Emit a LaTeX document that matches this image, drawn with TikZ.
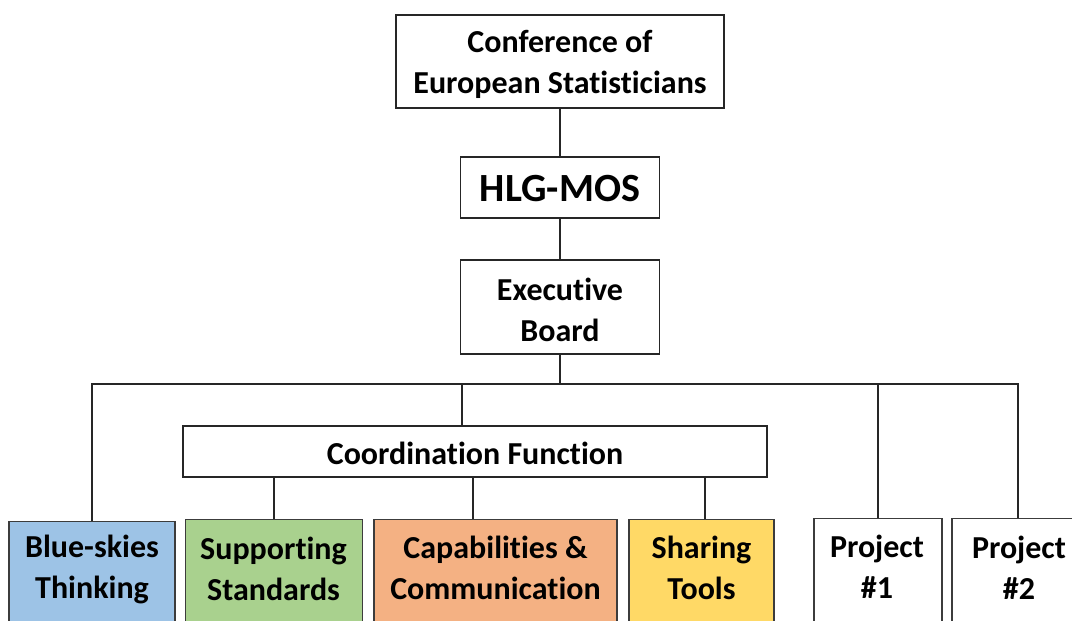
\documentclass[tikz,border=0pt]{standalone}
\usepackage{fontspec}
\setmainfont[Ligatures=NoCommon]{Carlito}
\definecolor{cblue}{HTML}{9DC3E6}
\definecolor{cgreen}{HTML}{A9D18E}
\definecolor{corange}{HTML}{F4B183}
\definecolor{cyellow}{HTML}{FFD966}
\definecolor{lcol}{HTML}{262626}
\tikzset{
  box/.style={draw=lcol, line width=1.3pt, fill=white, inner sep=0pt},
  bbox/.style={draw=lcol!90, line width=1.3pt, inner sep=0pt, anchor=north},
  lbl/.style={inner sep=0pt, align=center, font=\bfseries\fontsize{32}{41}\selectfont},
  conn/.style={draw=lcol, line width=1.3pt},
}
\begin{document}
\begin{tikzpicture}[x=1pt,y=-1pt]
\clip (0,0) rectangle (1072,621);
\fill[white] (0,0) rectangle (1072,621);
% top chain
\node[box, minimum width=328, minimum height=93] (conf) at (560,61.5) {};
\node[lbl] (conft) at (560,64) {Conference of\\European Statisticians};
\node[box, minimum width=199, minimum height=61] (hlg) at (560,187.5) {};
\node[lbl, font=\bfseries\fontsize{40}{44}\selectfont] (hlgt) at (560,188.5) {HLG-MOS};
\node[box, minimum width=199, minimum height=94] (exec) at (560,307) {};
\node[lbl] (exect) at (560,309.5) {Executive\\Board};
\coordinate (bus) at (560,384);
% coordination
\node[box, minimum width=584, minimum height=51] (coord) at (475,451.5) {};
\node[lbl] (coordt) at (475,453.5) {Coordination Function};
% bottom boxes
\node[bbox, fill=cblue, minimum width=166, minimum height=120] (blue) at (92,521) {};
\node[bbox, fill=cgreen, minimum width=177, minimum height=120] (green) at (274,519) {};
\node[bbox, fill=corange, minimum width=243, minimum height=120] (orange) at (495.5,519) {};
\node[bbox, fill=cyellow, minimum width=145, minimum height=120] (yellow) at (701.5,519) {};
\node[bbox, fill=white, minimum width=128, minimum height=120] (p1) at (878,518) {};
\node[bbox, fill=white, minimum width=132, minimum height=120] (p2) at (1018,518) {};
\node[lbl] (bluet) at (92,569.5) {Blue-skies\\Thinking};
\node[lbl] (greent) at (273.5,568.5) {Supporting\\Standards};
\node[lbl] (oranget) at (495.5,567.5) {Capabilities \&\\Communication};
\node[lbl] (yellowt) at (701.5,567.5) {Sharing\\Tools};
\node[lbl] (p1t) at (877,567) {Project\\\#1};
\node[lbl] (p2t) at (1019,568) {Project\\\#2};
% connectors
\draw[conn] (conf.south) -- (hlg.north);
\draw[conn] (hlg.south) -- (exec.north);
\draw[conn] (exec.south) -- (bus);
\draw[conn] (blue.north) |- (bus) -| (p2.north);
\draw[conn] ([xshift=-13pt]coord.north) -- ([xshift=-13pt]coord.north |- bus);
\draw[conn] (p1.north) -- (p1.north |- bus);
\draw[conn] (green.north) -- (green.north |- coord.south);
\draw[conn] ([xshift=-22.5pt]orange.north) -- ([xshift=-22.5pt]orange.north |- coord.south);
\draw[conn] ([xshift=3.5pt]yellow.north) -- ([xshift=3.5pt]yellow.north |- coord.south);
\end{tikzpicture}
\end{document}
